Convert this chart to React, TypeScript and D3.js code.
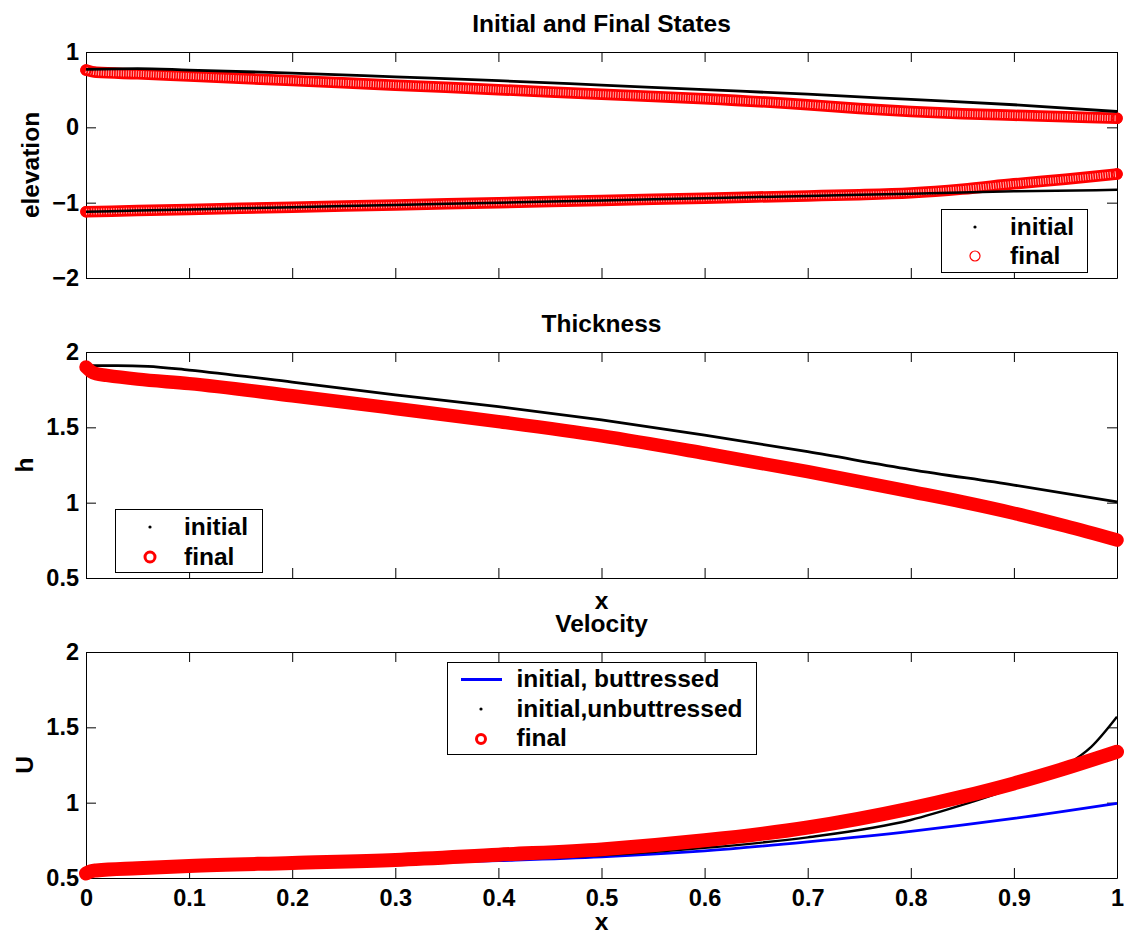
import React, { useRef, useEffect } from 'react';
import * as d3 from 'd3';

// x ticks shared by all three panels
const xTicks = [0, 0.1, 0.2, 0.3, 0.4, 0.5, 0.6, 0.7, 0.8, 0.9, 1];
const xTickLabels = ['0', '0.1', '0.2', '0.3', '0.4', '0.5', '0.6', '0.7', '0.8', '0.9', '1'];

// panel 1: elevation (surface and base)
const elevTicks = [-2, -1, 0, 1];
const elevTickLabels = ['\u22122', '\u22121', '0', '1'];
const surfInitX = [0, 0.05, 0.1, 0.2, 0.3, 0.4, 0.5, 0.6, 0.7, 0.8, 0.9, 1.0];
const surfInitial = [0.77, 0.78, 0.76, 0.72, 0.67, 0.62, 0.56, 0.5, 0.44, 0.37, 0.3, 0.21];
const baseInitial = [-1.12, -1.105, -1.09, -1.06, -1.03, -1.0, -0.97, -0.94, -0.91, -0.88, -0.85, -0.83];
const surfFinalX = [0, 0.01, 0.05, 0.1, 0.2, 0.3, 0.4, 0.5, 0.6, 0.7, 0.75, 0.8, 0.85, 0.9, 0.95, 1.0];
const surfFinal = [0.76, 0.73, 0.71, 0.68, 0.62, 0.56, 0.5, 0.44, 0.38, 0.3, 0.25, 0.21, 0.18, 0.16, 0.14, 0.12];
const baseFinalX = [0, 0.05, 0.1, 0.2, 0.3, 0.4, 0.5, 0.6, 0.7, 0.75, 0.8, 0.85, 0.9, 0.95, 1.0];
const baseFinal = [-1.12, -1.105, -1.09, -1.06, -1.03, -1.0, -0.97, -0.94, -0.91, -0.895, -0.87, -0.82, -0.75, -0.69, -0.62];

// panel 2: thickness
const hTicks = [0.5, 1, 1.5, 2];
const hTickLabels = ['0.5', '1', '1.5', '2'];
const thickInitX = [0, 0.03, 0.06, 0.1, 0.2, 0.3, 0.4, 0.5, 0.6, 0.7, 0.8, 0.9, 1.0];
const thickInitial = [1.91, 1.91, 1.905, 1.88, 1.8, 1.715, 1.637, 1.549, 1.449, 1.338, 1.22, 1.117, 1.005];
const thickFinalX = [0, 0.005, 0.01, 0.02, 0.05, 0.1, 0.2, 0.3, 0.4, 0.5, 0.6, 0.7, 0.8, 0.85, 0.9, 0.95, 1.0];
const thickFinal = [1.9, 1.87, 1.855, 1.845, 1.82, 1.79, 1.71, 1.625, 1.538, 1.443, 1.328, 1.206, 1.073, 1.005, 0.93, 0.845, 0.752];

// panel 3: velocity
const uTicks = [0.5, 1, 1.5, 2];
const uTickLabels = ['0.5', '1', '1.5', '2'];
const velButtX = [0, 0.1, 0.2, 0.3, 0.4, 0.5, 0.6, 0.7, 0.8, 0.9, 1.0];
const velButt = [0.53, 0.555, 0.575, 0.595, 0.615, 0.64, 0.68, 0.74, 0.81, 0.895, 0.995];
const velUnbuttX = [0, 0.1, 0.2, 0.3, 0.4, 0.5, 0.6, 0.7, 0.8, 0.85, 0.9, 0.95, 0.975, 1.0];
const velUnbutt = [0.53, 0.557, 0.578, 0.6, 0.622, 0.65, 0.7, 0.77, 0.885, 0.985, 1.1, 1.245, 1.37, 1.57];
const velFinalX = [0, 0.005, 0.01, 0.05, 0.1, 0.2, 0.3, 0.4, 0.5, 0.6, 0.7, 0.8, 0.85, 0.9, 0.95, 1.0];
const velFinal = [0.53, 0.545, 0.55, 0.565, 0.58, 0.6, 0.62, 0.655, 0.69, 0.75, 0.835, 0.962, 1.04, 1.128, 1.228, 1.338];

const FONT = '"Liberation Sans", Arial, Helvetica, sans-serif';
const W = 1124;
const H = 935;
const LEFT = 86;
const RIGHT = 1117;

const App = () => {
  const svgRef = useRef(null);

  useEffect(() => {
    const svg = d3.select(svgRef.current);
    svg.selectAll('*').remove();

    const x = d3.scaleLinear().domain([0, 1]).range([LEFT, RIGHT]);
    const pts = (xs, ys) => xs.map((v, i) => [v, ys[i]]);

    const panel = (top, bottom, domain, ticks, tickLabels, showX) => {
      const y = d3.scaleLinear().domain(domain).range([bottom, top]);
      const g = svg.append('g');
      g.append('rect')
        .attr('x', LEFT).attr('y', top)
        .attr('width', RIGHT - LEFT).attr('height', bottom - top)
        .attr('fill', 'white');

      const style = (sel) => {
        sel.attr('font-family', FONT).attr('font-size', 23.5).attr('font-weight', 'bold');
        sel.selectAll('path, line').attr('stroke', 'black').attr('stroke-width', 1);
        sel.selectAll('text').attr('fill', 'black');
      };

      g.append('g').attr('transform', `translate(${LEFT},0)`)
        .call(d3.axisLeft(y).tickValues(ticks).tickFormat((d, i) => tickLabels[i])
          .tickSizeInner(-10).tickSizeOuter(0).tickPadding(7))
        .call(style);
      g.append('g').attr('transform', `translate(${RIGHT},0)`)
        .call(d3.axisRight(y).tickValues(ticks).tickFormat(() => '')
          .tickSizeInner(-10).tickSizeOuter(0))
        .call(style);
      g.append('g').attr('transform', `translate(0,${top})`)
        .call(d3.axisTop(x).tickValues(xTicks).tickFormat(() => '')
          .tickSizeInner(-10).tickSizeOuter(0))
        .call(style);
      g.append('g').attr('transform', `translate(0,${bottom})`)
        .call(d3.axisBottom(x).tickValues(xTicks)
          .tickFormat((d, i) => (showX ? xTickLabels[i] : ''))
          .tickSizeInner(-10).tickSizeOuter(0).tickPadding(11))
        .call(style);

      const line = d3.line().x((d) => x(d[0])).y((d) => y(d[1])).curve(d3.curveMonotoneX);
      return { g, y, line };
    };

    const text = (s, px, py, opts = {}) => {
      const t = svg.append('text')
        .attr('x', px).attr('y', py)
        .attr('font-family', FONT)
        .attr('font-weight', 'bold')
        .attr('font-size', opts.size || 24.5)
        .attr('text-anchor', opts.anchor || 'start')
        .attr('fill', 'black')
        .text(s);
      if (opts.rotate) t.attr('transform', `rotate(-90,${px},${py})`);
      return t;
    };

    const midX = (LEFT + RIGHT) / 2;

    // ---------- panel 1 ----------
    const p1 = panel(52, 278, [-2, 1], elevTicks, elevTickLabels, false);
    // dense hollow circle markers look like a red band with pale stripes
    const hollowBand = (data) => {
      p1.g.append('path').datum(data).attr('d', p1.line)
        .attr('fill', 'none').attr('stroke', '#ff0000').attr('stroke-width', 11.5)
        .attr('stroke-linecap', 'round');
      p1.g.append('path').datum(data).attr('d', p1.line)
        .attr('fill', 'none').attr('stroke', 'white').attr('stroke-opacity', 0.75)
        .attr('stroke-width', 6).attr('stroke-dasharray', '0.9 1.6');
      const ends = [data[0], data[data.length - 1]];
      p1.g.selectAll(null).data(ends).enter().append('circle')
        .attr('cx', (d) => x(d[0])).attr('cy', (d) => p1.y(d[1])).attr('r', 5)
        .attr('fill', 'none').attr('stroke', '#ff0000').attr('stroke-width', 1.5);
    };
    hollowBand(pts(surfFinalX, surfFinal));
    hollowBand(pts(baseFinalX, baseFinal));
    p1.g.append('path').datum(pts(surfInitX, surfInitial)).attr('d', p1.line)
      .attr('fill', 'none').attr('stroke', 'black').attr('stroke-width', 2.8);
    p1.g.append('path').datum(pts(surfInitX, baseInitial)).attr('d', p1.line)
      .attr('fill', 'none').attr('stroke', 'black').attr('stroke-width', 2.5);
    text('Initial and Final States', midX, 32, { anchor: 'middle' });
    text('elevation', 39, 165, { anchor: 'middle', rotate: true });

    const lg1 = svg.append('g');
    lg1.append('rect').attr('x', 941.5).attr('y', 209.5).attr('width', 146).attr('height', 63)
      .attr('fill', 'white').attr('stroke', 'black').attr('stroke-width', 1);
    lg1.append('circle').attr('cx', 975).attr('cy', 227).attr('r', 1.6).attr('fill', 'black');
    lg1.append('circle').attr('cx', 975).attr('cy', 256).attr('r', 5)
      .attr('fill', 'none').attr('stroke', '#ff0000').attr('stroke-width', 1.2);
    text('initial', 1010, 235);
    text('final', 1010, 264);

    // ---------- panel 2 ----------
    const p2 = panel(352, 578, [0.5, 2], hTicks, hTickLabels, false);
    p2.g.append('path').datum(pts(thickInitX, thickInitial)).attr('d', p2.line)
      .attr('fill', 'none').attr('stroke', 'black').attr('stroke-width', 2.8);
    p2.g.append('path').datum(pts(thickFinalX, thickFinal)).attr('d', p2.line)
      .attr('fill', 'none').attr('stroke', '#ff0000').attr('stroke-width', 13.5)
      .attr('stroke-linecap', 'round').attr('stroke-linejoin', 'round');
    text('Thickness', midX, 332, { anchor: 'middle' });
    text('h', 33, 465, { anchor: 'middle', rotate: true });
    text('x', midX, 609, { anchor: 'middle' });

    const lg2 = svg.append('g');
    lg2.append('rect').attr('x', 115.5).attr('y', 509.5).attr('width', 147).attr('height', 63)
      .attr('fill', 'white').attr('stroke', 'black').attr('stroke-width', 1);
    lg2.append('circle').attr('cx', 150).attr('cy', 527).attr('r', 1.6).attr('fill', 'black');
    lg2.append('circle').attr('cx', 150).attr('cy', 557).attr('r', 5)
      .attr('fill', 'none').attr('stroke', '#ff0000').attr('stroke-width', 3);
    text('initial', 184, 535);
    text('final', 184, 565);

    // ---------- panel 3 ----------
    const p3 = panel(652, 878, [0.5, 2], uTicks, uTickLabels, true);
    p3.g.append('path').datum(pts(velButtX, velButt)).attr('d', p3.line)
      .attr('fill', 'none').attr('stroke', '#0000ff').attr('stroke-width', 2.8);
    p3.g.append('path').datum(pts(velUnbuttX, velUnbutt)).attr('d', p3.line)
      .attr('fill', 'none').attr('stroke', 'black').attr('stroke-width', 2.4);
    p3.g.append('path').datum(pts(velFinalX, velFinal)).attr('d', p3.line)
      .attr('fill', 'none').attr('stroke', '#ff0000').attr('stroke-width', 14)
      .attr('stroke-linecap', 'round').attr('stroke-linejoin', 'round');
    text('Velocity', midX, 632, { anchor: 'middle' });
    text('U', 33, 765, { anchor: 'middle', rotate: true });
    text('x', midX, 930, { anchor: 'middle' });

    const lg3 = svg.append('g');
    lg3.append('rect').attr('x', 447.5).attr('y', 662.5).attr('width', 309).attr('height', 92)
      .attr('fill', 'white').attr('stroke', 'black').attr('stroke-width', 1);
    lg3.append('line').attr('x1', 461).attr('x2', 502).attr('y1', 679.5).attr('y2', 679.5)
      .attr('stroke', '#0000ff').attr('stroke-width', 3);
    lg3.append('circle').attr('cx', 481).attr('cy', 709).attr('r', 1.6).attr('fill', 'black');
    lg3.append('circle').attr('cx', 481).attr('cy', 739).attr('r', 4.5)
      .attr('fill', 'none').attr('stroke', '#ff0000').attr('stroke-width', 3);
    text('initial, buttressed', 516.5, 687);
    text('initial,unbuttressed', 516.5, 716.5);
    text('final', 516.5, 746);
  }, []);

  return (
    <svg
      ref={svgRef}
      width={W}
      height={H}
      style={{ position: 'absolute', left: 0, top: 0, background: 'white' }}
    />
  );
};

export default App;
